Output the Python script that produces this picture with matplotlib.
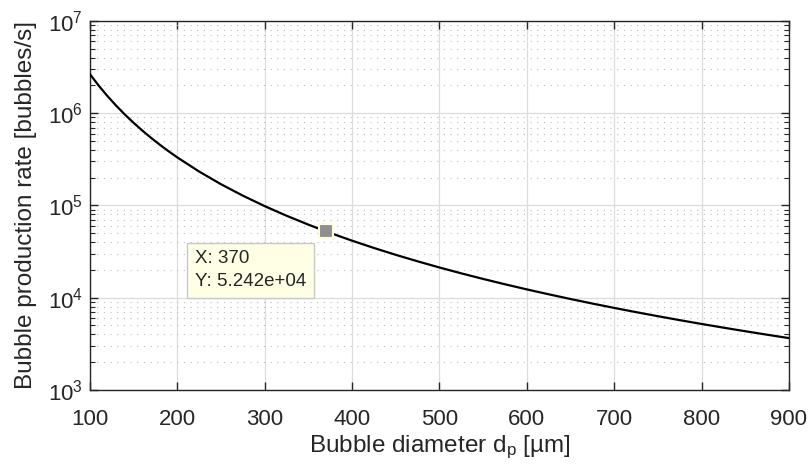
import numpy as np
import matplotlib.pyplot as plt
from matplotlib.ticker import LogLocator, NullFormatter, NullLocator

plt.rcParams['font.family'] = ['Liberation Sans', 'DejaVu Sans']
plt.rcParams['mathtext.fontset'] = 'custom'
plt.rcParams['mathtext.rm'] = 'Liberation Sans'
plt.rcParams['mathtext.it'] = 'Liberation Sans:italic'

# bubble diameter [um] and production rate [bubbles/s]
diameter = [100, 110, 120, 130, 140, 150, 160, 170, 180, 190, 200, 225, 250,
            275, 300, 325, 350, 370, 375, 400, 425, 450, 475, 500, 525, 550,
            575, 600, 625, 650, 675, 700, 725, 750, 775, 800, 825, 850, 875,
            900]
rate = [2.655e6, 1.995e6, 1.537e6, 1.209e6, 9.677e5, 7.868e5, 6.483e5,
        5.405e5, 4.553e5, 3.871e5, 3.319e5, 2.331e5, 1.699e5, 1.277e5,
        9.834e4, 7.735e4, 6.193e4, 5.242e4, 5.035e4, 4.149e4, 3.459e4,
        2.914e4, 2.478e4, 2.124e4, 1.835e4, 1.596e4, 1.397e4, 1.229e4,
        1.088e4, 9.669e3, 8.634e3, 7.741e3, 6.968e3, 6.294e3, 5.704e3,
        5.186e3, 4.729e3, 4.324e3, 3.964e3, 3.642e3]

# data tip
tip_x = 370
tip_y = 5.242e4

fg = '#262626'
fig = plt.figure(figsize=(8.1, 4.72), dpi=100)
ax = fig.add_axes([0.111, 0.174, 0.863, 0.7815])

ax.semilogy(diameter, rate, color='k', lw=1.6, zorder=3)
ax.set_xlim(100, 900)
ax.set_ylim(1e3, 1e7)
ax.set_xticks(np.arange(100, 901, 100))
ax.xaxis.set_minor_locator(NullLocator())
ax.yaxis.set_major_locator(LogLocator(base=10, numticks=10))
ax.yaxis.set_minor_locator(LogLocator(base=10, subs=np.arange(2, 10), numticks=10))
ax.yaxis.set_minor_formatter(NullFormatter())

ax.grid(True, which='major', color='#dcdcdc', lw=0.9, ls='-')
ax.grid(True, which='minor', axis='y', color='#bdbdbd', lw=0.8, ls=(0, (1, 5)))
ax.set_axisbelow(True)

ax.tick_params(which='both', direction='in', top=True, right=True,
               colors=fg, labelsize=16)
ax.tick_params(axis='x', pad=14)
ax.tick_params(axis='y', pad=5)
ax.tick_params(which='major', length=6, width=1)
ax.tick_params(which='minor', length=3.5, width=0.8)
for s in ax.spines.values():
    s.set_color(fg)
    s.set_linewidth(1)

ax.set_xlabel(r'Bubble diameter d$_{\mathrm{p}}$ [µm]', fontsize=17.5, color=fg,
              labelpad=2.5)
ax.set_ylabel('Bubble production rate [bubbles/s]', fontsize=17.5, color=fg,
              labelpad=8)

# data tip marker and label
ax.plot([tip_x], [tip_y], 's', ms=10, mfc='#8f8f8f', mec='#ffffd8', mew=1.5,
        zorder=5)
ax.annotate(f'X: {tip_x}\nY: {tip_y:.3e}', xy=(tip_x, tip_y),
            xytext=(-131, -19), textcoords='offset pixels', ha='left',
            va='top', fontsize=13.5, color=fg, linespacing=1.45,
            bbox=dict(boxstyle='square,pad=0.4', fc='#ffffe6', ec='#c8c8c8',
                      lw=1), zorder=6)

fig.savefig('out.png', dpi=100)
